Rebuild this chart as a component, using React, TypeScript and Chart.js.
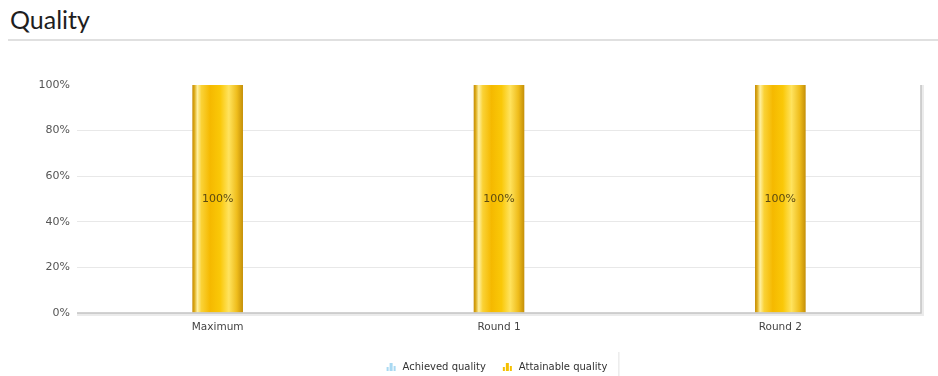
import React, { useEffect, useRef } from "react";
import { Chart, registerables } from "chart.js";

Chart.register(...registerables);

const categories = ["Maximum", "Round 1", "Round 2"];
const achievedQuality = [0, 0, 0];
const attainableQuality = [100, 100, 100];
const yTicks = [0, 20, 40, 60, 80, 100];
const seriesNames = ["Achieved quality", "Attainable quality"];
const seriesColors = ["#a9d9f2", "#f5c000"];

const FONT = "'DejaVu Sans', Verdana, sans-serif";

function goldGradient(ctx: any) {
  const chart = ctx.chart;
  const xs = chart.scales && chart.scales.x;
  if (!chart.chartArea || !xs) return "#f5c000";
  const cx = xs.getPixelForValue(ctx.dataIndex);
  const catW = (chart.chartArea.right - chart.chartArea.left) / categories.length;
  const w = catW * 0.18;
  const g = chart.ctx.createLinearGradient(cx - w / 2, 0, cx + w / 2, 0);
  g.addColorStop(0, "#c38c08");
  g.addColorStop(0.04, "#dcaa18");
  g.addColorStop(0.1, "#fff0a0");
  g.addColorStop(0.18, "#fad236");
  g.addColorStop(0.35, "#f5b900");
  g.addColorStop(0.55, "#fac808");
  g.addColorStop(0.72, "#ffe35e");
  g.addColorStop(0.88, "#efbd1c");
  g.addColorStop(1, "#c48f08");
  return g;
}

// frame on the right and bottom of the plot area, with a soft shadow
const framePlugin = {
  id: "frame",
  afterDatasetsDraw(chart: any) {
    const { ctx, chartArea } = chart;
    ctx.save();
    ctx.strokeStyle = "rgba(0,0,0,0.08)";
    ctx.lineWidth = 3;
    ctx.beginPath();
    ctx.moveTo(chartArea.right + 1.5, chartArea.top);
    ctx.lineTo(chartArea.right + 1.5, chartArea.bottom + 1.5);
    ctx.lineTo(chartArea.left, chartArea.bottom + 1.5);
    ctx.stroke();
    ctx.strokeStyle = "#c4c4c4";
    ctx.lineWidth = 1.5;
    ctx.beginPath();
    ctx.moveTo(chartArea.right, chartArea.top);
    ctx.lineTo(chartArea.right, chartArea.bottom);
    ctx.lineTo(chartArea.left, chartArea.bottom);
    ctx.stroke();
    ctx.restore();
  },
};

// value labels in the middle of each bar
const valueLabelPlugin = {
  id: "valueLabels",
  afterDatasetsDraw(chart: any) {
    const { ctx } = chart;
    ctx.save();
    ctx.font = `11px ${FONT}`;
    ctx.fillStyle = "#5c4a12";
    ctx.textAlign = "center";
    ctx.textBaseline = "middle";
    const meta = chart.getDatasetMeta(1);
    meta.data.forEach((bar: any, i: number) => {
      const v = attainableQuality[i];
      const y = (bar.y + bar.base) / 2;
      ctx.fillText(`${v}%`, bar.x, y);
    });
    ctx.restore();
  },
};

function drawIcon(ctx: CanvasRenderingContext2D, x: number, y: number, color: string) {
  ctx.fillStyle = color;
  ctx.fillRect(x, y + 6, 2, 4);
  ctx.fillRect(x + 3, y + 2, 3, 8);
  ctx.fillRect(x + 7, y + 5, 2, 5);
}

// legend at the bottom with small column icons
const legendPlugin = {
  id: "bottomLegend",
  afterDraw(chart: any) {
    const { ctx, chartArea } = chart;
    ctx.save();
    ctx.font = `10px ${FONT}`;
    ctx.textBaseline = "middle";
    ctx.textAlign = "left";
    const iconW = 10;
    const gapIcon = 6;
    const gapItems = 17;
    const widths = seriesNames.map((n) => iconW + gapIcon + ctx.measureText(n).width);
    const total = widths.reduce((a, b) => a + b, 0) + gapItems * (widths.length - 1);
    let x = (chartArea.left + chartArea.right) / 2 - total / 2 - 2;
    const y = chart.height - 9;
    seriesNames.forEach((n, i) => {
      drawIcon(ctx, x, y - 6, seriesColors[i]);
      ctx.fillStyle = "#333";
      ctx.fillText(n, x + iconW + gapIcon, y);
      x += widths[i] + gapItems;
    });
    ctx.strokeStyle = "#e2e2e2";
    ctx.lineWidth = 1;
    ctx.beginPath();
    ctx.moveTo(x - 5.5, chart.height - 24);
    ctx.lineTo(x - 5.5, chart.height);
    ctx.stroke();
    ctx.restore();
  },
};

export default function App() {
  const canvasRef = useRef<HTMLCanvasElement>(null);

  useEffect(() => {
    if (!canvasRef.current) return;
    const chart = new Chart(canvasRef.current, {
      type: "bar",
      data: {
        labels: categories,
        datasets: [
          {
            label: seriesNames[0],
            data: achievedQuality,
            backgroundColor: seriesColors[0],
            categoryPercentage: 1,
            barPercentage: 0.18,
          },
          {
            label: seriesNames[1],
            data: attainableQuality,
            backgroundColor: goldGradient as any,
            categoryPercentage: 1,
            barPercentage: 0.18,
          },
        ],
      },
      options: {
        responsive: false,
        animation: false,
        layout: { padding: { top: 35, right: 17, bottom: 38, left: 0 } },
        plugins: {
          legend: { display: false },
          tooltip: { enabled: false },
        },
        scales: {
          x: {
            stacked: true,
            grid: { display: false },
            border: { display: false },
            ticks: {
              color: "#444",
              font: { family: FONT, size: 10.5 },
              padding: 0,
            },
            afterFit: (s: any) => {
              s.height = 25;
            },
          },
          y: {
            min: 0,
            max: 100,
            afterBuildTicks: (s: any) => {
              s.ticks = yTicks.map((v) => ({ value: v }));
            },
            grid: {
              color: (c: any) => (c.tick && (c.tick.value === 100 || c.tick.value === 0) ? "rgba(0,0,0,0)" : "#e8e8e8"),
              drawTicks: false,
            },
            border: { display: false },
            ticks: {
              color: "#555",
              font: { family: FONT, size: 11 },
              padding: 7,
              callback: (v: any) => `${v}%`,
            },
            afterFit: (s: any) => {
              s.width = 77;
            },
          },
        },
      },
      plugins: [framePlugin, valueLabelPlugin, legendPlugin],
    });
    return () => chart.destroy();
  }, []);

  return (
    <div style={{ position: "fixed", left: 0, top: 0, width: 938, height: 376, background: "#fff", overflow: "hidden" }}>
      <div
        style={{
          position: "absolute",
          left: 10,
          top: 3,
          fontFamily: "Lato, 'Noto Sans', sans-serif",
          fontSize: 25,
          color: "#1e1e1e",
          lineHeight: "32px",
        }}
      >
        Quality
      </div>
      <div style={{ position: "absolute", left: 8, right: 0, top: 39, height: 2, background: "#e0e0e0" }} />
      <canvas ref={canvasRef} width={938} height={326} style={{ position: "absolute", left: 0, top: 50, display: "block" }} />
    </div>
  );
}
